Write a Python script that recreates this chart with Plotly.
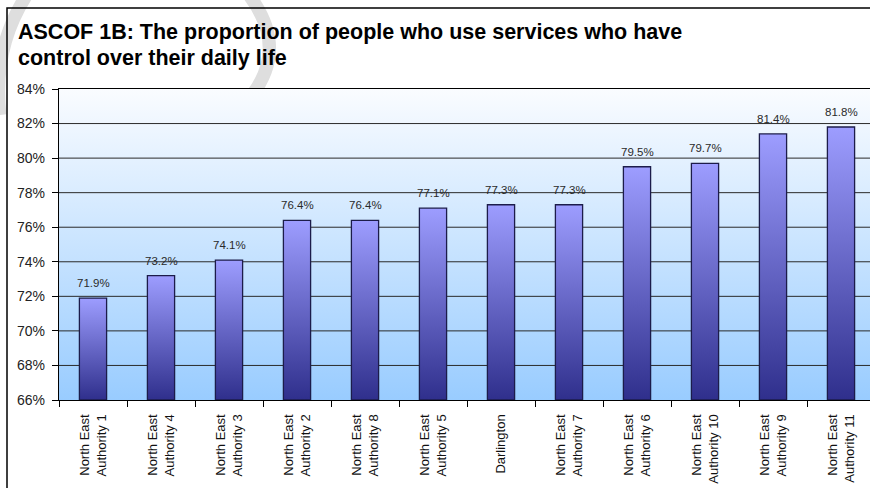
import plotly.graph_objects as go

# ---- data -------------------------------------------------------------
authorities = [
    "North East<br>Authority 1",
    "North East<br>Authority 4",
    "North East<br>Authority 3",
    "North East<br>Authority 2",
    "North East<br>Authority 8",
    "North East<br>Authority 5",
    "Darlington",
    "North East<br>Authority 7",
    "North East<br>Authority 6",
    "North East<br>Authority 10",
    "North East<br>Authority 9",
    "North East<br>Authority 11",
]
control_pct = [71.9, 73.2, 74.1, 76.4, 76.4, 77.1, 77.3, 77.3, 79.5, 79.7, 81.4, 81.8]
y_ticks = [66, 68, 70, 72, 74, 76, 78, 80, 82, 84]
title_lines = [
    "ASCOF 1B: The proportion of people who use services who have",
    "control over their daily life",
]

# ---- geometry in pixels ----------------------------------------------
W, H = 870, 488
ML, MT, MB = 59, 89, 88
plot_h = H - MT - MB
plot_w = W - ML
cat_px = 68.0
n = len(authorities)
x_lo = -0.5
x_hi = x_lo + plot_w / cat_px
y_lo, y_hi = y_ticks[0], y_ticks[-1]
bar_w = 0.4

FONT = "Liberation Sans, Arial, sans-serif"


def px_x(p):
    return (p - ML) / plot_w


def px_y(p):
    return (H - MB - p) / plot_h


fig = go.Figure()

# plot-area background: white fading to light blue
fig.add_trace(go.Scatter(
    x=[x_lo, n + 0.5, n + 0.5, x_lo, x_lo],
    y=[y_lo, y_lo, y_hi, y_hi, y_lo],
    mode="lines", fill="toself", line=dict(width=0),
    fillgradient=dict(type="vertical",
                      colorscale=[[0, "#99ccff"], [1, "#fafcff"]]),
    hoverinfo="skip", showlegend=False,
))

# horizontal gridlines
for yv in y_ticks[1:-1]:
    fig.add_trace(go.Scatter(
        x=[x_lo, n + 1], y=[yv, yv], mode="lines",
        line=dict(color="#2a2a2a", width=1),
        hoverinfo="skip", showlegend=False,
    ))

# bars, each with its own vertical gradient
for i, v in enumerate(control_pct):
    x0, x1 = i - bar_w / 2, i + bar_w / 2
    fig.add_trace(go.Scatter(
        x=[x0, x1, x1, x0, x0],
        y=[y_lo, y_lo, v, v, y_lo],
        mode="lines", fill="toself",
        line=dict(color="#1c1c4a", width=1.3),
        fillgradient=dict(type="vertical",
                          colorscale=[[0, "#2f2f8c"], [1, "#9d9dff"]]),
        hoverinfo="skip", showlegend=False,
    ))

# value labels above bars
for i, v in enumerate(control_pct):
    fig.add_annotation(
        x=i, y=v, text=f"{v}%", showarrow=False,
        xanchor="center", yanchor="bottom", yshift=7,
        font=dict(family=FONT, size=11.5, color="#2a2a2a"),
    )

# title, two lines
for line, ypx in zip(title_lines, [32, 58]):
    fig.add_annotation(
        xref="paper", yref="paper", x=px_x(16), y=px_y(ypx),
        text=f"<b>{line}</b>", showarrow=False,
        xanchor="left", yanchor="middle",
        font=dict(family=FONT, size=21.5, color="#000000"),
    )

shapes = [
    # faint grey watermark strokes
    dict(type="path", xref="paper", yref="paper", layer="below",
         path=(f"M {px_x(30)},{px_y(-10)} Q {px_x(-8)},{px_y(45)} "
               f"{px_x(0)},{px_y(115)}"),
         line=dict(color="#dedede", width=13)),
    dict(type="path", xref="paper", yref="paper", layer="below",
         path=(f"M {px_x(245)},{px_y(-10)} Q {px_x(290)},{px_y(45)} "
               f"{px_x(252)},{px_y(95)}"),
         line=dict(color="#dedede", width=13)),
    # chart frame: left and top edges (the others run off the page)
    dict(type="path", xref="paper", yref="paper", layer="below",
         path=(f"M {px_x(7)},{px_y(H + 20)} L {px_x(7)},{px_y(8)} "
               f"L {px_x(W + 40)},{px_y(8)}"),
         line=dict(color="#000000", width=1.5)),
]

fig.update_layout(
    width=W, height=H,
    margin=dict(l=ML, r=0, t=MT, b=MB, pad=0),
    paper_bgcolor="#ffffff",
    plot_bgcolor="rgba(0,0,0,0)",
    shapes=shapes,
    showlegend=False,
    xaxis=dict(
        range=[x_lo, x_hi], tickmode="array",
        tickvals=list(range(n)), ticktext=authorities,
        tickangle=-90, ticks="", showgrid=False, zeroline=False,
        showline=True, linecolor="#000000", linewidth=1.3, mirror=True,
        ticklabelstandoff=8,
        tickfont=dict(family=FONT, size=13, color="#111111"),
        minor=dict(tickmode="array",
                   tickvals=[i + 0.5 for i in range(-1, n)],
                   ticks="outside", ticklen=6, tickcolor="#000000",
                   tickwidth=1, showgrid=False),
    ),
    yaxis=dict(
        range=[y_lo, y_hi], tickmode="array", tickvals=y_ticks,
        ticktext=[f"{t}%" for t in y_ticks],
        ticks="outside", ticklen=6, tickcolor="#000000",
        showgrid=False, zeroline=False,
        showline=True, linecolor="#000000", linewidth=1.3,
        ticklabelstandoff=4,
        tickfont=dict(family=FONT, size=14, color="#222222"),
    ),
)

fig.write_html("out.html")
